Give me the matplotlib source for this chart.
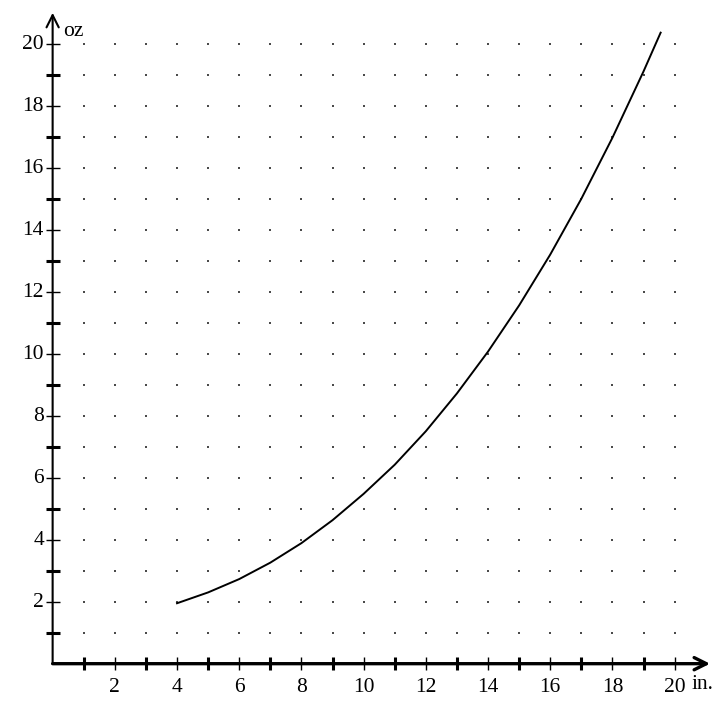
import numpy as np
import matplotlib
matplotlib.use("Agg")
import matplotlib.pyplot as plt

# valores (polegadas -> onças)
comprimento = [4, 5, 6, 7, 8, 9, 10, 11, 12, 13, 14, 15, 16, 17, 18, 19, 19.55]
peso = [1.95, 2.30, 2.73, 3.26, 3.89, 4.63, 5.48, 6.42, 7.50, 8.72, 10.07,
        11.56, 13.20, 15.00, 16.97, 19.11, 20.36]

x_ticks = [2, 4, 6, 8, 10, 12, 14, 16, 18, 20]
y_ticks = [2, 4, 6, 8, 10, 12, 14, 16, 18, 20]
x_label = "in."
y_label = "oz"

fig = plt.figure(figsize=(7.18, 7.05), dpi=100)
ax = fig.add_axes([0.0733, 0.0586, 0.9226, 0.932])
ax.set_xlim(0, 21.3)
ax.set_ylim(0, 21.2)
ax.axis("off")

# grade de pontos
gx, gy = np.meshgrid(np.arange(1, 21), np.arange(1, 21))
ax.scatter(gx.ravel(), gy.ravel(), s=1.8, color="#4a4a4a", marker="s",
           linewidths=0, zorder=1)

# eixos com setas
ax.annotate("", xy=(21.14, 0), xytext=(0, 0),
            arrowprops=dict(arrowstyle="->", lw=2.4, color="black",
                            mutation_scale=22, shrinkA=0, shrinkB=0),
            annotation_clip=False)
ax.annotate("", xy=(0, 21.0), xytext=(0, 0),
            arrowprops=dict(arrowstyle="->", lw=1.5, color="black",
                            mutation_scale=22, shrinkA=0, shrinkB=0),
            annotation_clip=False)

# marcas dos eixos
for i in range(1, 21):
    lw = 2.2 if i % 2 else 1.0
    ax.plot([i, i], [-0.21, 0.21], color="black", lw=lw,
            solid_capstyle="butt", clip_on=False)
    ax.plot([-0.22, 0.24], [i, i], color="black", lw=lw,
            solid_capstyle="butt", clip_on=False)

fonte = dict(family="Liberation Serif", fontsize=15.5, color="black")
for v in x_ticks:
    ax.text(v, -0.76, str(v), ha="center", va="center", **fonte)
for v in y_ticks:
    ax.text(-0.28, v - 0.03, str(v), ha="right", va="center", **fonte)

ax.text(0.33, 20.4, y_label, ha="left", va="center", **fonte)
ax.text(20.53, -0.68, x_label, ha="left", va="center", **fonte)

# curva
ax.plot(comprimento, peso, color="black", lw=1.4, zorder=3)

fig.savefig("out.png", dpi=100)
